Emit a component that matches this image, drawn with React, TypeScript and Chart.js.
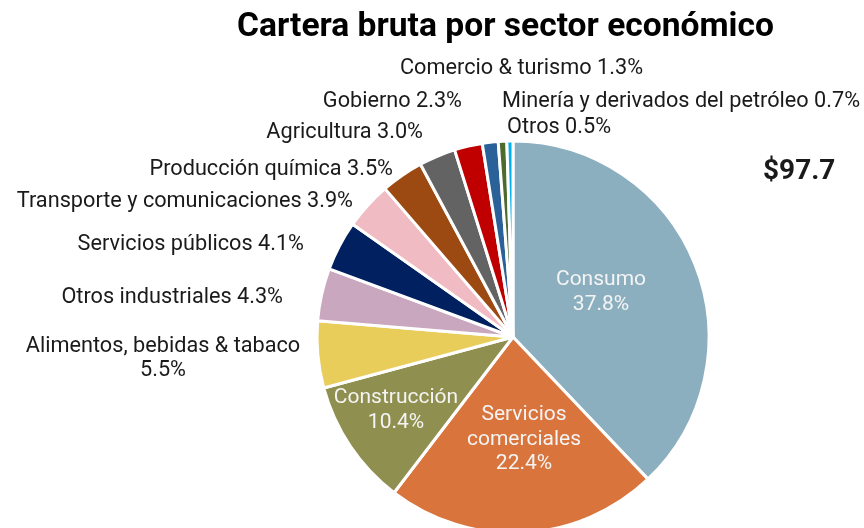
import React, { useEffect, useRef } from "react";
import { Chart, registerables } from "chart.js";

Chart.register(...registerables);

const TITLE = "Cartera bruta por sector económico";
const TOTAL_LABEL = "$97.7";

const categories = [
  "Consumo",
  "Servicios comerciales",
  "Construcción",
  "Alimentos, bebidas & tabaco",
  "Otros industriales",
  "Servicios públicos",
  "Transporte y comunicaciones",
  "Producción química",
  "Agricultura",
  "Gobierno",
  "Comercio & turismo",
  "Minería y derivados del petróleo",
  "Otros",
];

const shares = [37.8, 22.4, 10.4, 5.5, 4.3, 4.1, 3.9, 3.5, 3.0, 2.3, 1.3, 0.7, 0.5];

const colors = [
  "#8BAFBF",
  "#D9743C",
  "#8F8F4F",
  "#E9CD5B",
  "#C9A7BE",
  "#002060",
  "#F0BBC3",
  "#9C4A11",
  "#636363",
  "#C00000",
  "#2A6199",
  "#4E6B2E",
  "#00B0F0",
];

type LabelSpec = { idx: number; lines: string[]; x: number; y: number; align: CanvasTextAlign; inside: boolean };

const fmt = (v: number) => v.toFixed(1) + "%";

const labelSpecs: LabelSpec[] = [
  { idx: 0, lines: [categories[0], fmt(shares[0])], x: 601, y: 280, align: "center", inside: true },
  { idx: 1, lines: ["Servicios", "comerciales", fmt(shares[1])], x: 524, y: 415, align: "center", inside: true },
  { idx: 2, lines: [categories[2], fmt(shares[2])], x: 396, y: 398, align: "center", inside: true },
  { idx: 3, lines: [categories[3], fmt(shares[3])], x: 163, y: 347, align: "center", inside: false },
  { idx: 4, lines: [categories[4] + " " + fmt(shares[4])], x: 283, y: 298, align: "right", inside: false },
  { idx: 5, lines: [categories[5] + " " + fmt(shares[5])], x: 304, y: 245, align: "right", inside: false },
  { idx: 6, lines: [categories[6] + " " + fmt(shares[6])], x: 353, y: 202, align: "right", inside: false },
  { idx: 7, lines: [categories[7] + " " + fmt(shares[7])], x: 393, y: 170, align: "right", inside: false },
  { idx: 8, lines: [categories[8] + " " + fmt(shares[8])], x: 423, y: 133, align: "right", inside: false },
  { idx: 9, lines: [categories[9] + " " + fmt(shares[9])], x: 462, y: 102, align: "right", inside: false },
  { idx: 10, lines: [categories[10] + " " + fmt(shares[10])], x: 400, y: 69, align: "left", inside: false },
  { idx: 11, lines: [categories[11] + " " + fmt(shares[11])], x: 502, y: 102, align: "left", inside: false },
  { idx: 12, lines: [categories[12] + " " + fmt(shares[12])], x: 507, y: 128, align: "left", inside: false },
];

const FONT = "Roboto, 'Noto Sans', sans-serif";

const textPlugin = {
  id: "textPlugin",
  afterDraw(chart: any) {
    const ctx: CanvasRenderingContext2D = chart.ctx;
    ctx.save();
    ctx.fillStyle = "#000000";
    ctx.font = `bold 33.6px ${FONT}`;
    ctx.textAlign = "left";
    ctx.textBaseline = "alphabetic";
    ctx.fillText(TITLE, 237, 36);
    ctx.font = `bold 28px ${FONT}`;
    ctx.fillStyle = "#1a1a1a";
    ctx.textAlign = "left";
    ctx.textBaseline = "middle";
    ctx.fillText(TOTAL_LABEL, 763, 172);
    for (const s of labelSpecs) {
      ctx.textAlign = s.align;
      ctx.textBaseline = "middle";
      if (s.inside) {
        ctx.font = `21px ${FONT}`;
        ctx.fillStyle = "#F4F4F4";
      } else {
        ctx.font = `21.7px ${FONT}`;
        ctx.fillStyle = "#1a1a1a";
      }
      const lh = s.inside ? 24.5 : 24;
      s.lines.forEach((line, i) => ctx.fillText(line, s.x, s.y + i * lh));
    }
    ctx.restore();
  },
};

export default function App() {
  const ref = useRef<HTMLCanvasElement | null>(null);
  useEffect(() => {
    if (!ref.current) return;
    const chart = new Chart(ref.current, {
      type: "pie",
      data: {
        labels: categories,
        datasets: [
          {
            data: shares,
            backgroundColor: colors,
            borderColor: "#FFFFFF",
            borderWidth: 3,
          },
        ],
      },
      options: {
        responsive: false,
        animation: false,
        radius: 196,
        layout: { padding: { left: 162, right: 0, top: 146, bottom: 0 } },
        plugins: {
          legend: { display: false },
          tooltip: { enabled: false },
          title: { display: false },
        },
      },
      plugins: [textPlugin],
    });
    return () => chart.destroy();
  }, []);
  return (
    <div style={{ position: "fixed", left: 0, top: 0, width: 864, height: 528, background: "#fff", overflow: "hidden" }}>
      <canvas ref={ref} width={864} height={528} style={{ width: 864, height: 528, display: "block" }} />
    </div>
  );
}
